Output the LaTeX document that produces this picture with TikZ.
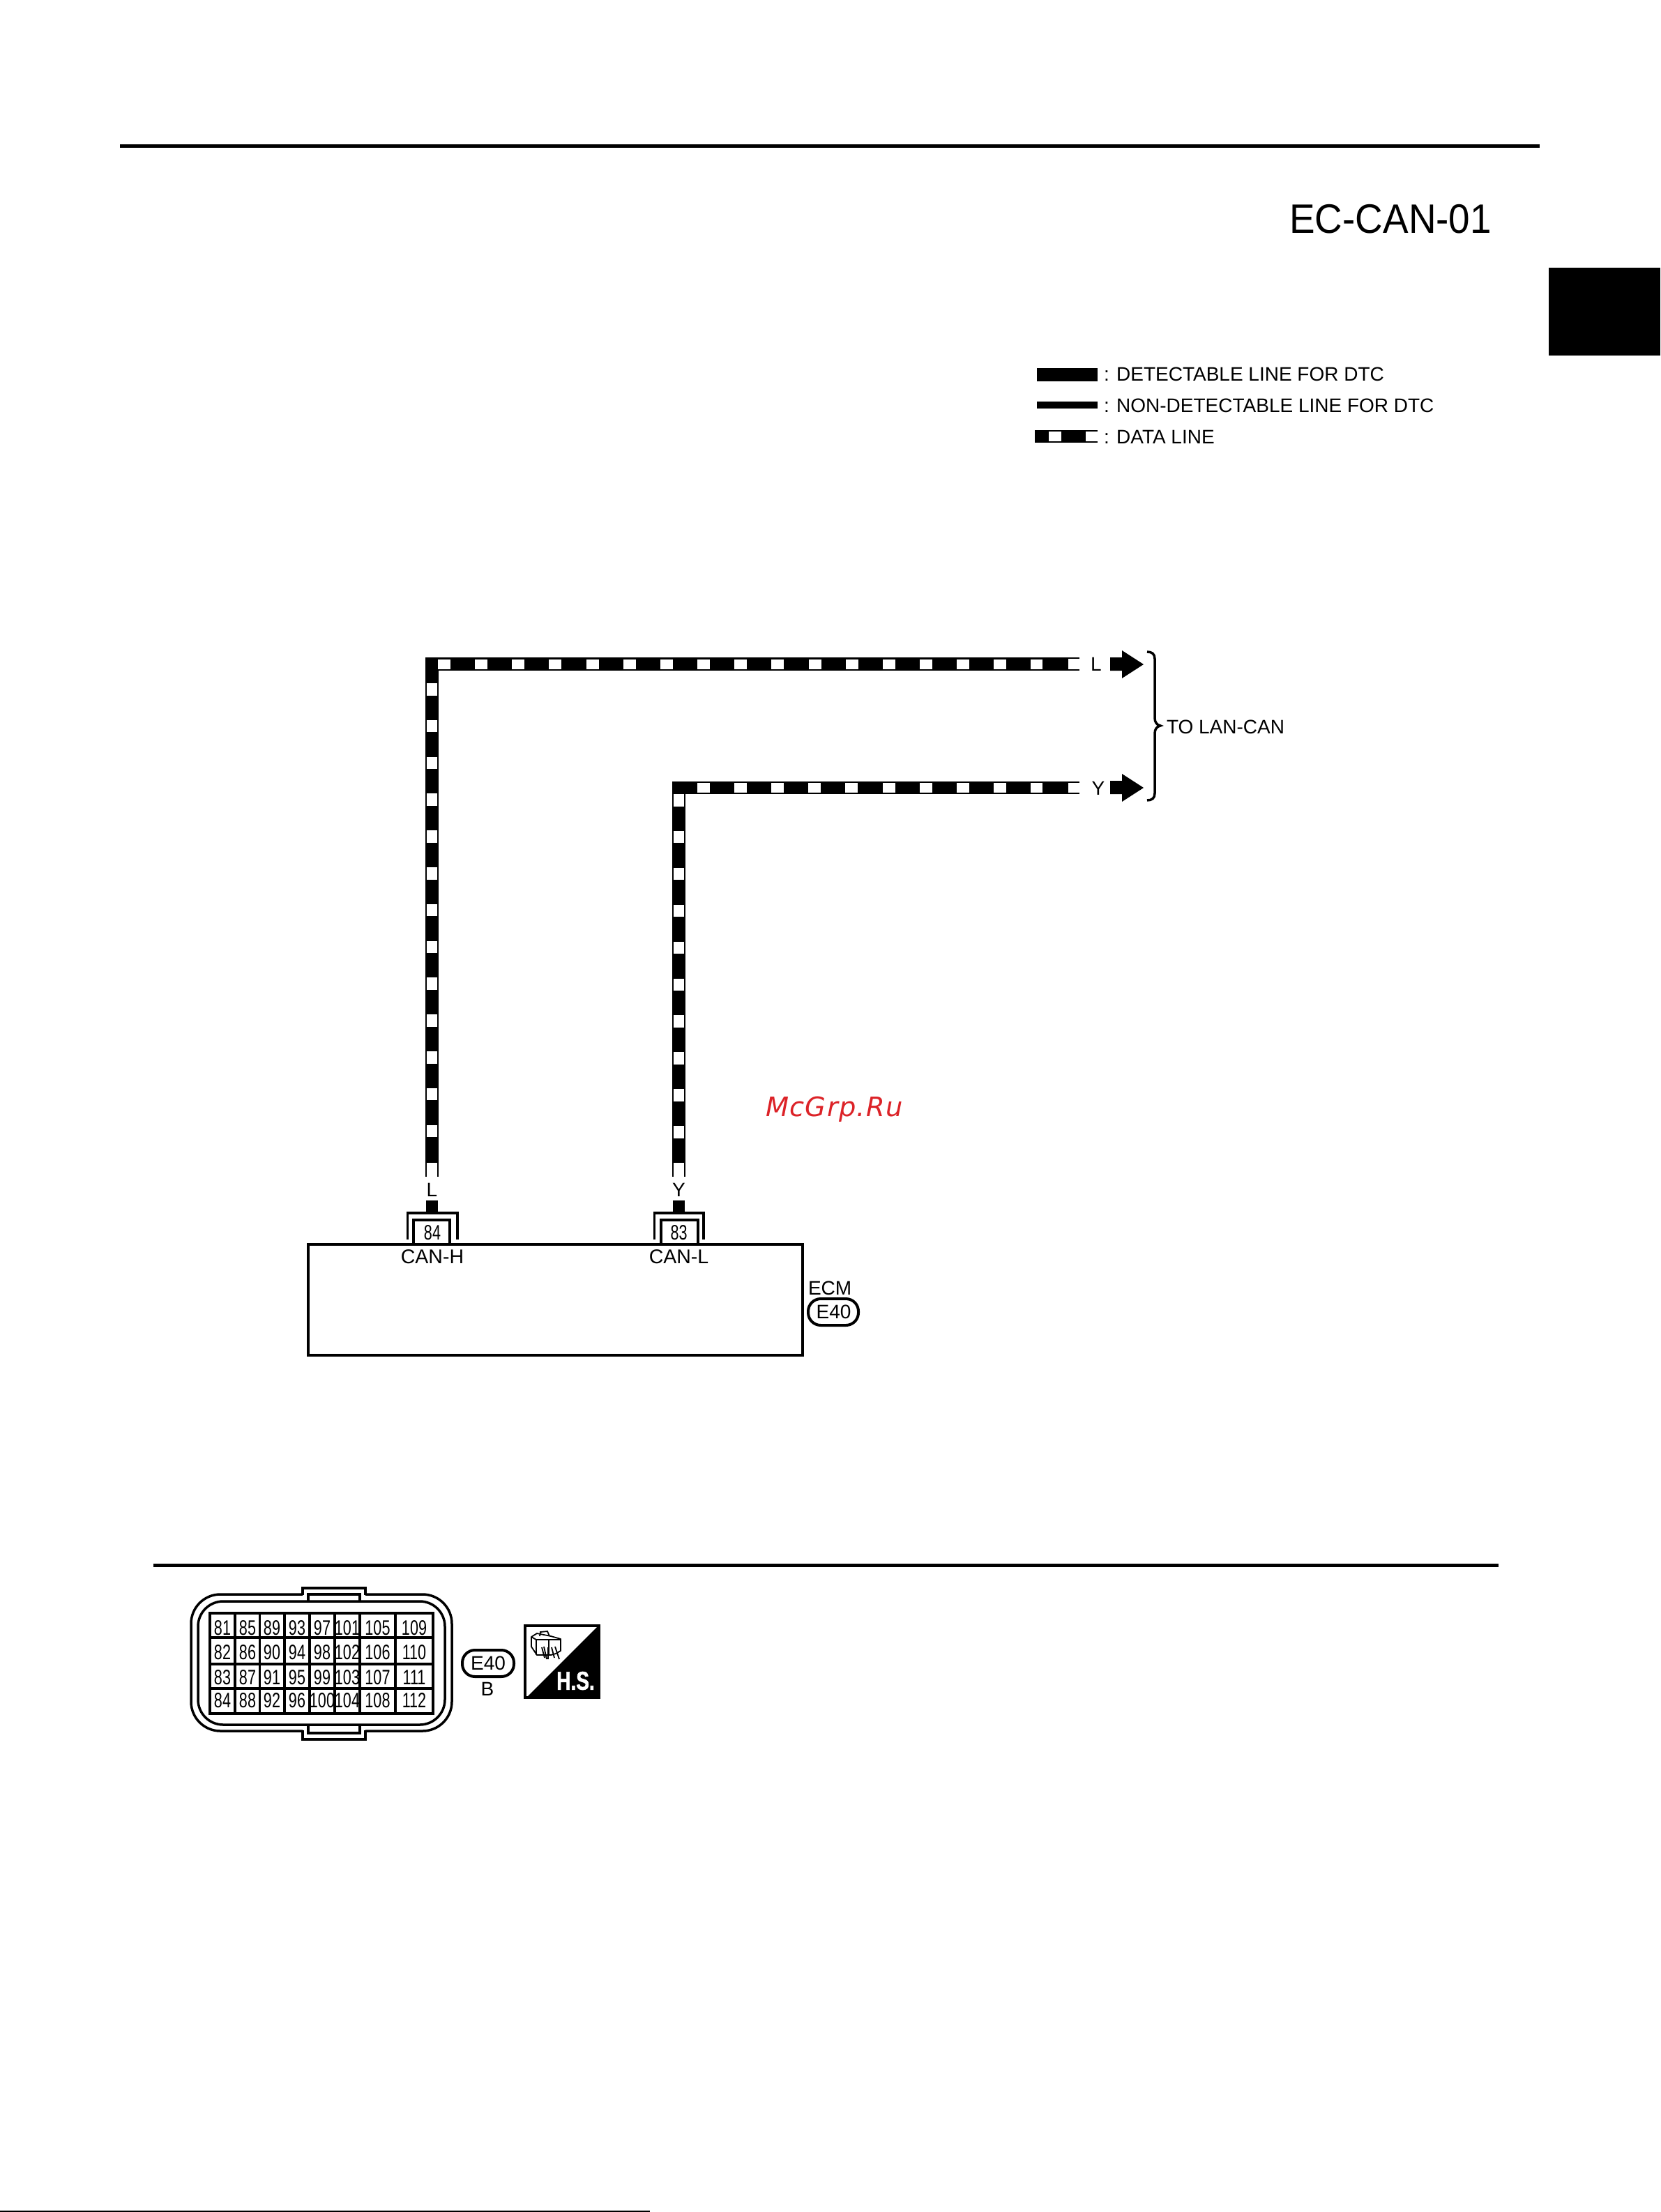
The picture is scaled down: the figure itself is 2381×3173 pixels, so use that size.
\documentclass[tikz,border=0pt]{standalone}
\usepackage{fontspec}
\setmainfont{Liberation Sans}
\newfontfamily\numf[FakeStretch=0.72]{Liberation Sans}
\newfontfamily\hsf[FakeStretch=0.76,FakeBold=1.5]{Liberation Sans Bold}
\newfontfamily\titlef[FakeStretch=0.93]{Liberation Sans}
\newfontfamily\wmf[LetterSpace=3.5]{DejaVu Sans}
\definecolor{wmred}{RGB}{220,35,40}
\newcommand{\fsz}[1]{\fontsize{\the\dimexpr#1pt*3/10\relax}{\the\dimexpr#1pt*36/100\relax}\selectfont}
\tikzset{
  lw/.style={line width=#1*0.3pt},
  txt/.style={inner sep=0pt,outer sep=0pt,font=\fsz{28},text=black},
  pin/.style={inner sep=0pt,outer sep=0pt,font=\numf\fsz{30},text=black},
  wire/.style={draw=black,lw=18.5,line join=miter},
  tick/.style={fill=white,draw=none},
  bubble/.style={draw=black,lw=4,rounded corners=18*0.3pt,fill=white},
  block/.style={fill=black,draw=none},
  flowarrow/.style={fill=black,draw=none}
}
\begin{document}
\begin{tikzpicture}[x=0.3pt,y=-0.3pt]
\useasboundingbox (0,0) rectangle (2381,3173);
% page furniture
\draw[lw=5] (172,209.5) -- (2208,209.5);
\draw[lw=4.5] (220,2245.5) -- (2149,2245.5);
\fill[block] (2221,384) rectangle (2381,510);
\draw[lw=2.5] (0,3172) -- (932,3172);
\node[txt,font=\titlef\fsz{59},anchor=east] (title) at (2139,314) {EC-CAN-01};
% legend
\fill[block] (1487,528) rectangle (1574,547);
\node[txt,anchor=west] (lg1) at (1583,537) {: DETECTABLE LINE FOR DTC};
\fill[block] (1487,576) rectangle (1574,586);
\node[txt,anchor=west] (lg2) at (1583,582) {: NON-DETECTABLE LINE FOR DTC};
\fill[block] (1484,617) rectangle (1503.5,635);
\fill[block] (1522,617) rectangle (1557,635);
\draw[lw=2] (1503.5,618) -- (1522,618) (1503.5,634) -- (1522,634);
\draw[lw=2] (1557,618) -- (1574,618) (1557,634) -- (1574,634);
\node[txt,anchor=west] (lg3) at (1583,627) {: DATA LINE};
% wires
\coordinate (a0) at (619.5,1668);
\coordinate (a1) at (619.5,952.5);
\coordinate (a2) at (1532,952.5);
\coordinate (b0) at (973.5,1668);
\coordinate (b1) at (973.5,1130);
\coordinate (b2) at (1532,1130);
\draw[wire] (a0) -- (a1) -- (a2);
\draw[wire] (b0) -- (b1) -- (b2);
\foreach \k in {0,...,16} {
  \pgfmathsetmacro{\xs}{628+53.15*\k}
  \fill[tick] (\xs,946) rectangle +(18,14);
}
\foreach \k in {0,...,12} {
  \pgfmathsetmacro{\ys}{980+52.8*\k}
  \fill[tick] (611.5,\ys) rectangle +(15,17.5);
}
\foreach \k in {0,...,9} {
  \pgfmathsetmacro{\xs}{1000+53.1*\k}
  \fill[tick] (\xs,1123) rectangle +(18,14);
}
\foreach \k in {0,...,9} {
  \pgfmathsetmacro{\ys}{1139+52.9*\k}
  \fill[tick] (966,\ys) rectangle +(14.5,17.5);
}
% open wire ends
\draw[lw=2] (1515,944) -- (1548,944) (1515,961) -- (1548,961);
\draw[lw=2] (1515,1122) -- (1548,1122) (1515,1138) -- (1548,1138);
\fill[block] (1495,943) rectangle (1532,962);
\fill[block] (1495,1121) rectangle (1532,1139);
\draw[lw=2] (611,1668) -- (611,1688) (628,1668) -- (628,1688);
\draw[lw=2] (965,1668) -- (965,1688) (982,1668) -- (982,1688);
\node[txt] (la) at (619.5,1707) {L};
\node[txt] (lb) at (973.5,1707) {Y};
\node[txt] (lc) at (1572,953) {L};
\node[txt] (ld) at (1575,1131) {Y};
% arrows
\fill[flowarrow] (1592,943) -- (1609,943) -- (1609,933) -- (1640,953) -- (1609,973) -- (1609,962) -- (1592,962) -- cycle;
\fill[flowarrow] (1592,1120) -- (1609,1120) -- (1609,1110) -- (1640,1130) -- (1609,1150) -- (1609,1139) -- (1592,1139) -- cycle;
% brace
\draw[lw=3.5] (1645,935) .. controls (1652,935) and (1656,938) .. (1656,945) -- (1656,1030)
  .. controls (1656,1036) and (1659,1040) .. (1664,1041)
  .. controls (1659,1042) and (1656,1046) .. (1656,1052) -- (1656,1138)
  .. controls (1656,1145) and (1652,1148) .. (1645,1148);
\node[txt,anchor=west] (tolan) at (1673,1043) {TO LAN-CAN};
% ECM
\fill[block] (611,1722) rectangle (628,1740);
\fill[block] (965,1722) rectangle (982,1740);
\draw[lw=3.5] (584.5,1778) -- (584.5,1740) -- (656,1740) -- (656,1778);
\draw[lw=3.5] (938.5,1778) -- (938.5,1740) -- (1009,1740) -- (1009,1778);
\draw[lw=4] (593,1784) -- (593,1749.5) -- (645,1749.5) -- (645,1784);
\draw[lw=4] (948,1784) -- (948,1749.5) -- (1001,1749.5) -- (1001,1784);
\node[pin] (p84) at (620,1768) {84};
\node[pin] (p83) at (973.5,1768) {83};
\node[draw=black,lw=3.5,inner sep=0pt,outer sep=0pt,anchor=north west,minimum width=709*0.3pt,minimum height=159*0.3pt] (ecm) at (442,1785) {};
\node[txt,font=\fsz{28.5}] (canh) at (620,1803) {CAN-H};
\node[txt,font=\fsz{28.5}] (canl) at (973.5,1803) {CAN-L};
\node[txt,anchor=west] (ecmt) at (1159,1848) {ECM};
\draw[bubble] (1159,1863) rectangle (1231,1901);
\node[txt] (e40a) at (1195.5,1882) {E40};
% connector shell
\draw[lw=3.5,rounded corners=42*0.3pt] (434,2287) -- (274,2287) -- (274,2483) -- (434,2483);
\draw[lw=3.5,rounded corners=42*0.3pt] (524,2287) -- (648,2287) -- (648,2483) -- (524,2483);
\draw[lw=3.5] (434,2288) -- (434,2278) -- (524,2278) -- (524,2288);
\draw[lw=3.5] (434,2482) -- (434,2495) -- (524,2495) -- (524,2482);
\draw[lw=3.5,rounded corners=36*0.3pt] (284,2297) rectangle (638,2474);
\draw[lw=3.5] (442,2297) -- (442,2287) -- (516,2287) -- (516,2297);
\draw[lw=3.5] (442,2474) -- (442,2486) -- (516,2486) -- (516,2474);
% connector grid
\draw[lw=4] (301,2314) rectangle (621,2458);
\foreach \x in {337,372.5,408,444,480,516,567} \draw[lw=3.5] (\x,2314) -- (\x,2458);
\foreach \y in {2349,2387,2422} \draw[lw=3.5] (301,\y) -- (621,\y);
\foreach \cx/\col [count=\c] in {319/0,355/1,390/2,426/3,462/4,498/5,541.5/6,594/7} {
  \foreach \ry [count=\r] in {2335,2370,2406,2439} {
    \pgfmathtruncatemacro{\num}{81+\col*4+\r-1}
    \node[pin] (cp\num) at (\cx,\ry) {\num};
  }
}
% connector tag
\draw[bubble] (663,2367) rectangle (737,2405);
\node[txt] (e40b) at (700,2386) {E40};
\node[txt] (bt) at (699,2423) {B};
% harness symbol
\draw[lw=3.5,fill=white] (753,2332) rectangle (859,2435);
\fill[block] (859,2331) -- (859,2435) -- (755,2435) -- cycle;
\node[inner sep=0pt,outer sep=0pt,text=white,font=\hsf\fsz{37}] (hs) at (825.5,2411) {H.S.};
\draw[lw=1.8] (774,2347) -- (775,2341) -- (785,2340) -- (788,2347);
\draw[lw=1.8,line join=round] (762,2348) -- (770,2343) -- (790,2347) -- (804,2351) -- (804,2368) -- (797,2372) -- (790,2374) -- (770,2374) -- (762,2362) -- cycle;
\draw[lw=1.8] (762,2348) -- (769,2352) -- (804,2352);
\draw[lw=1.8] (769,2352) -- (769,2374) (787,2352) -- (787,2374);
\draw[lw=1.8] (777,2363) -- (781,2378) (780,2362) -- (784,2380) (786,2380) -- (786,2363);
\draw[lw=1.8] (791,2363) -- (795,2378) (796,2362) -- (802,2380);
% watermark
\node[inner sep=0pt,outer sep=0pt,anchor=base west,text=wmred,font=\wmf\itshape\fsz{38.4}] (wm) at (1098,1601) {McGrp.Ru};
\end{tikzpicture}
\end{document}
